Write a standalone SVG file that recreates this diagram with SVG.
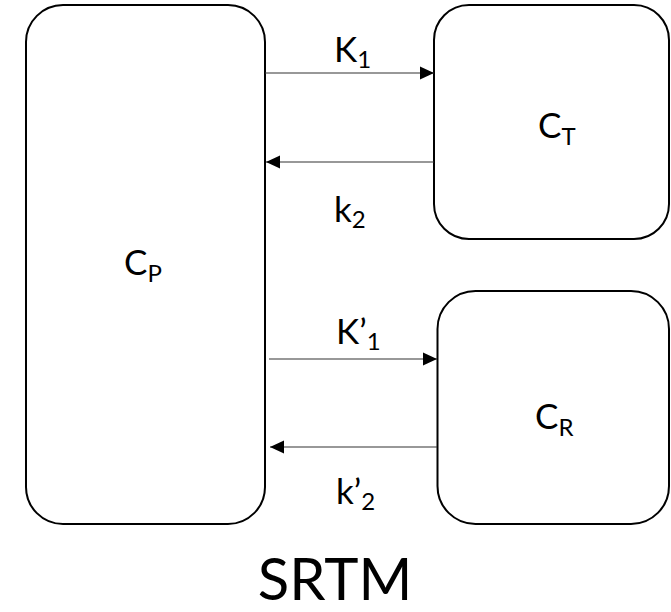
<svg xmlns="http://www.w3.org/2000/svg" width="671" height="612" viewBox="0 0 671 612">
<style>
.box{fill:#fff;stroke:#000;stroke-width:2}
.lbl{font-family:Lato,"Open Sans","Liberation Sans",sans-serif;font-size:35px;fill:#000}
.sub{font-size:24px}
.edge{stroke:#333;stroke-width:1.2;fill:none}
.title{font-family:Lato,"Open Sans","Liberation Sans",sans-serif;font-size:58px;fill:#000}
</style>
<defs>
<marker id="ah" markerUnits="userSpaceOnUse" markerWidth="14" markerHeight="14" refX="14" refY="7" orient="auto">
<path d="M0,0.5 L14,7 L0,13.5 Z" fill="#000"/>
</marker>
</defs>
<rect width="671" height="612" fill="#fff"/>
<g id="CP">
<rect class="box" x="26" y="5" width="239" height="519" rx="37"/>
<text class="lbl" x="124" y="275">C<tspan class="sub" dy="7">P</tspan></text>
</g>
<g id="CT">
<rect class="box" x="434" y="5" width="235" height="234" rx="35"/>
<text class="lbl" x="538" y="138">C<tspan class="sub" dy="7">T</tspan></text>
</g>
<g id="CR">
<rect class="box" x="437.5" y="291" width="231.5" height="233" rx="38"/>
<text class="lbl" x="535" y="429">C<tspan class="sub" dy="7">R</tspan></text>
</g>
<g id="connectors">
<path class="edge" d="M265,73 H434" marker-end="url(#ah)"/>
<path class="edge" d="M434,162 H266" marker-end="url(#ah)"/>
<path class="edge" d="M269,359 H437" marker-end="url(#ah)"/>
<path class="edge" d="M437,447 H270" marker-end="url(#ah)"/>
<text class="lbl" x="334" y="62">K<tspan class="sub" dy="6">1</tspan></text>
<text class="lbl" x="334" y="222">k<tspan class="sub" dy="6">2</tspan></text>
<text class="lbl" x="336" y="344">K’<tspan class="sub" dy="6">1</tspan></text>
<text class="lbl" x="336" y="504">k’<tspan class="sub" dy="6">2</tspan></text>
</g>
<text class="title" x="335" y="600" text-anchor="middle">SRTM</text>
</svg>
